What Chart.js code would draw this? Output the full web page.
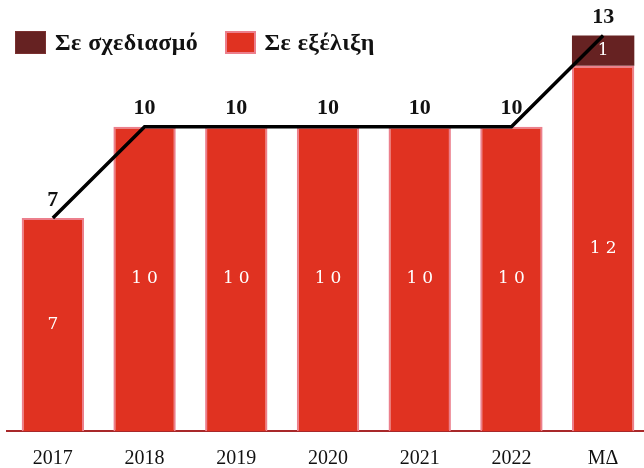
<!DOCTYPE html>
<html>
<head>
<meta charset="utf-8">
<script src="https://cdn.jsdelivr.net/npm/chart.js@4"></script>
<style>
  body { margin: 0; overflow: hidden; background: #fff; }
  #wrap { position: relative; width: 644px; height: 468px; overflow: hidden; }
  #legend { position: absolute; left: 15px; top: 31px; font: bold 24px "Liberation Serif", serif; letter-spacing: 0.4px; color: #111; white-space: nowrap; }
  .item { display: inline-flex; align-items: center; height: 23px; margin-right: 20px; }
  .box { width: 31px; height: 23px; margin-right: 9px; box-sizing: border-box; }
</style>
</head>
<body>
<div id="wrap">
  <canvas id="barChart" width="650" height="468"></canvas>
  <div id="legend">
    <span class="item"><span class="box" style="background:#662222;border:1px solid #7a3030"></span>Σε σχεδιασμό</span>
    <span class="item"><span class="box" style="background:#e03221;border:2px solid #ec7f8c"></span>Σε εξέλιξη</span>
  </div>
</div>
<script>
const categories = ['2017', '2018', '2019', '2020', '2021', '2022', 'ΜΔ'];
const inProgress = [7, 10, 10, 10, 10, 10, 12];
const planned = [null, null, null, null, null, null, 1];
const totals = [7, 10, 10, 10, 10, 10, 13];

const labelsPlugin = {
  id: 'barLabels',
  afterDatasetsDraw: (chart) => {
    const {ctx} = chart;
    ctx.save();
    ctx.textAlign = 'center';
    ctx.textBaseline = 'middle';
    ctx.fillStyle = '#ffffff';
    ctx.font = '17px "DejaVu Serif", serif';
    ctx.letterSpacing = '5px';
    [0, 1].forEach(di => {
      const meta = chart.getDatasetMeta(di);
      meta.data.forEach((bar, i) => {
        const v = chart.data.datasets[di].data[i];
        if (v == null) return;
        const mid = (bar.y + bar.base) / 2;
        ctx.fillText(String(v), bar.x + 2.5, mid);
      });
    });
    // totals above the bars
    ctx.letterSpacing = '0px';
    ctx.fillStyle = '#111';
    ctx.font = 'bold 22px "Liberation Serif", serif';
    ctx.textBaseline = 'bottom';
    const y = chart.scales.y;
    const x = chart.scales.x;
    totals.forEach((t, i) => {
      ctx.fillText(String(t), x.getPixelForValue(i), y.getPixelForValue(t) - 7);
    });
    ctx.restore();
  }
};

const config = {
  type: 'bar',
  data: {
    labels: categories,
    datasets: [{
      label: 'Σε εξέλιξη',
      data: inProgress,
      backgroundColor: '#e03221',
      borderColor: '#ec7f8c',
      borderWidth: {left: 2, right: 2, top: 2, bottom: 0},
      borderSkipped: false,
      stack: 'bars',
      order: 2
    }, {
      label: 'Σε σχεδιασμό',
      data: planned,
      backgroundColor: '#662222',
      borderWidth: 0,
      stack: 'bars',
      order: 2
    }, {
      type: 'line',
      label: 'Σύνολο',
      data: totals,
      borderColor: '#000',
      borderWidth: 3.5,
      pointRadius: 0,
      tension: 0,
      stack: 'line',
      order: 1
    }]
  },
  options: {
    responsive: false,
    animation: false,
    layout: { padding: {left: 7, right: 1, top: 5, bottom: 0} },
    datasets: { bar: { barPercentage: 1, categoryPercentage: 0.68 } },
    scales: {
      x: {
        stacked: true,
        grid: { display: false, drawTicks: false },
        border: { display: true, color: '#a8282a', width: 2 },
        ticks: { color: '#111', padding: 16, font: { family: '"Liberation Serif", serif', size: 20 } },
        afterFit: (scale) => { scale.height = 37; }
      },
      y: {
        stacked: true,
        display: false,
        min: 0,
        max: 14
      }
    },
    plugins: {
      legend: { display: false },
      tooltip: { enabled: false }
    }
  },
  plugins: [labelsPlugin]
};

new Chart(document.querySelector('#barChart'), config);
</script>
</body>
</html>
